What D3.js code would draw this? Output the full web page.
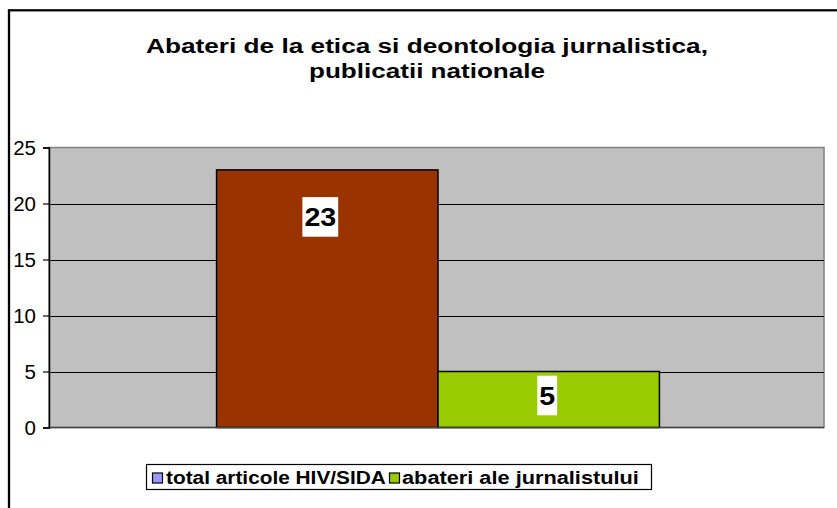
<!DOCTYPE html>
<html>
<head>
<meta charset="utf-8">
<script src="https://cdn.jsdelivr.net/npm/d3@7"></script>
<style>
  html, body { margin: 0; padding: 0; background: #fff; }
  svg { display: block; }
  text { font-family: "Liberation Sans", Arial, Helvetica, sans-serif; }
</style>
</head>
<body>
<svg id="chart" width="837" height="508"></svg>
<script>
// ---- data ----
const titleLines = ["Abateri de la etica si deontologia jurnalistica,", "publicatii nationale"];
const seriesNames = ["total articole HIV/SIDA", "abateri ale jurnalistului"];
const seriesValues = [23, 5];
const barColors = ["#993300", "#99CC00"];
const legendColors = ["#9999FF", "#99CC00"];
const yTicks = [0, 5, 10, 15, 20, 25];

// ---- layout ----
const W = 837, H = 508;
const plot = { left: 49, right: 824, top: 147.5, bottom: 427.5 };
const labelDy = [47, 24];
const labelDx = [-7, -1.5];

const svg = d3.select("#chart");

// helper: stretch a text horizontally to a target width
function stretchText(sel, x, y, anchor, targetW) {
  const natural = sel.node().getComputedTextLength();
  const s = targetW / natural;
  sel.attr("x", 0).attr("y", 0)
     .attr("text-anchor", anchor)
     .attr("transform", `translate(${x},${y}) scale(${s},1)`);
}

// outer chart frame (only top & left visible)
svg.append("rect")
  .attr("x", 9).attr("y", 10.3)
  .attr("width", 900).attr("height", 600)
  .attr("fill", "#fff").attr("stroke", "#000").attr("stroke-width", 2.3);

// title
const title = svg.append("g");
const titleWidths = [562, 236];
const titleBase = [52.5, 77.5];
titleLines.forEach((t, i) => {
  const tt = title.append("text")
    .attr("font-size", 20.5).attr("font-weight", "bold")
    .attr("fill", "#000")
    .text(t);
  stretchText(tt, 427, titleBase[i], "middle", titleWidths[i]);
});

// scales
const y = d3.scaleLinear().domain([0, 25]).range([plot.bottom, plot.top]);
const x = d3.scaleBand().domain(seriesNames).range([plot.left + 1.5, plot.right + 1.5])
  .paddingInner(0).paddingOuter(0.75);

// plot area
svg.append("rect")
  .attr("x", plot.left).attr("y", plot.top)
  .attr("width", plot.right - plot.left).attr("height", plot.bottom - plot.top)
  .attr("fill", "#C0C0C0").attr("stroke", "#808080").attr("stroke-width", 1.5);

// gridlines
svg.append("g").selectAll("line")
  .data(yTicks.filter(d => d > 0 && d < 25))
  .join("line")
  .attr("x1", plot.left).attr("x2", plot.right)
  .attr("y1", d => Math.round(y(d)) + 0.5).attr("y2", d => Math.round(y(d)) + 0.5)
  .attr("stroke", "#000").attr("stroke-width", 1);

// bars
svg.append("g").selectAll("rect")
  .data(seriesValues)
  .join("rect")
  .attr("x", (d, i) => x(seriesNames[i]))
  .attr("y", d => y(d))
  .attr("width", x.bandwidth())
  .attr("height", d => y(0) - y(d))
  .attr("fill", (d, i) => barColors[i])
  .attr("stroke", "#000").attr("stroke-width", 1.5);

// x axis line
svg.append("line")
  .attr("x1", plot.left).attr("x2", plot.right)
  .attr("y1", plot.bottom).attr("y2", plot.bottom)
  .attr("stroke", "#444").attr("stroke-width", 1.5);

// y axis
const yAxis = svg.append("g")
  .attr("transform", `translate(${plot.left},0)`)
  .call(d3.axisLeft(y).tickValues(yTicks).tickSize(6).tickPadding(7).tickFormat(d3.format("d")));
yAxis.select(".domain").attr("stroke", "#000").attr("stroke-width", 1.5);
yAxis.selectAll(".tick line").attr("stroke", "#000").attr("stroke-width", 1.2);
yAxis.selectAll(".tick text")
  .attr("font-size", 20.5).attr("fill", "#000")
  .attr("font-family", "'Liberation Sans', Arial, sans-serif");

// data labels
const lab = svg.append("g");
seriesValues.forEach((v, i) => {
  const cx = x(seriesNames[i]) + x.bandwidth() / 2 + labelDx[i];
  const cy = y(v) + labelDy[i];
  const g = lab.append("g").attr("transform", `translate(${cx},${cy})`);
  const t = g.append("text")
    .attr("text-anchor", "middle")
    .attr("y", 9.3)
    .attr("font-size", 26).attr("font-weight", "bold").attr("fill", "#000")
    .attr("transform", "scale(1.1,1)")
    .text(String(v));
  const w = t.node().getComputedTextLength() * 1.1 + 4;
  g.insert("rect", "text")
    .attr("x", -w / 2).attr("y", -19.8)
    .attr("width", w).attr("height", 39.6)
    .attr("fill", "#fff");
});

// legend
const leg = svg.append("g");
leg.append("rect")
  .attr("x", 146.5).attr("y", 464.5).attr("width", 505).attr("height", 25)
  .attr("fill", "#fff").attr("stroke", "#000").attr("stroke-width", 1.2);
const legItems = [
  { sx: 152.5, tx: 166, tw: 220 },
  { sx: 389.5, tx: 402, tw: 237 }
];
seriesNames.forEach((name, i) => {
  leg.append("rect")
    .attr("x", legItems[i].sx).attr("y", 473).attr("width", 10).attr("height", 10)
    .attr("fill", legendColors[i]).attr("stroke", "#000").attr("stroke-width", 1.2);
  const lt = leg.append("text")
    .attr("font-size", 18.5).attr("font-weight", "bold").attr("fill", "#000")
    .text(name);
  stretchText(lt, legItems[i].tx, 484, "start", legItems[i].tw);
});
</script>
</body>
</html>
